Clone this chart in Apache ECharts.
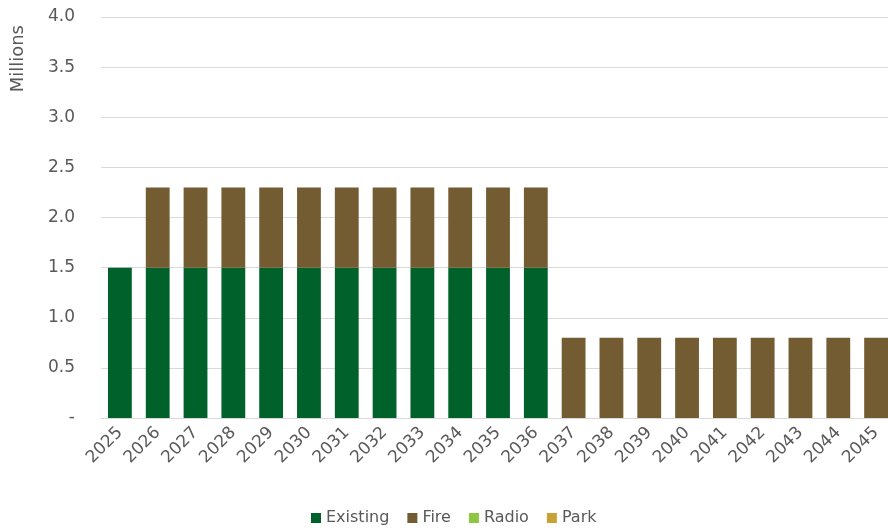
<!DOCTYPE html>
<html><head><meta charset="utf-8">
<script src="https://cdn.jsdelivr.net/npm/echarts@6/dist/echarts.min.js"></script>
<style>html,body{margin:0;padding:0;background:#fff}#c{width:888px;height:529px}</style>
</head><body><div id="c"></div>
<script>
const categories = ['2025','2026','2027','2028','2029','2030','2031','2032','2033','2034','2035','2036','2037','2038','2039','2040','2041','2042','2043','2044','2045'];
const existing = [1.5,1.5,1.5,1.5,1.5,1.5,1.5,1.5,1.5,1.5,1.5,1.5,0,0,0,0,0,0,0,0,0];
const fire = [0,0.8,0.8,0.8,0.8,0.8,0.8,0.8,0.8,0.8,0.8,0.8,0.8,0.8,0.8,0.8,0.8,0.8,0.8,0.8,0.8];
const radio = [0,0,0,0,0,0,0,0,0,0,0,0,0,0,0,0,0,0,0,0,0];
const park = [0,0,0,0,0,0,0,0,0,0,0,0,0,0,0,0,0,0,0,0,0];
const yTicks = {min:0, max:4, interval:0.5};

const chart = echarts.init(document.getElementById('c'));
const font = 'DejaVu Sans';
function s(name, data, color){
  return {name, type:'bar', stack:'t', data, barCategoryGap:'37%', itemStyle:{color}, emphasis:{disabled:true}};
}
chart.setOption({
  animation:false,
  textStyle:{fontFamily:font},
  grid:{left:101, top:17, width:794, bottom:111, containLabel:false, outerBoundsMode:'none'},
  legend:{bottom:-2, left:306, itemWidth:10, itemHeight:10, itemGap:18, icon:'rect',
    textStyle:{fontSize:16, color:'#595959', fontFamily:font},
    data:['Existing','Fire','Radio','Park']},
  graphic:[{type:'text', left:9, top:25, rotation:Math.PI/2, style:{text:'Millions', fontSize:18, fill:'#595959', fontFamily:font}}],
  xAxis:{type:'category', data:categories,
    axisLine:{lineStyle:{color:'#d9d9d9', width:1}}, axisTick:{show:false},
    axisLabel:{rotate:45, fontSize:17, color:'#595959', margin:12, interval:0}},
  yAxis:{type:'value', min:yTicks.min, max:yTicks.max, interval:yTicks.interval,
    axisLine:{show:false}, axisTick:{show:false},
    splitLine:{lineStyle:{color:'#d9d9d9'}},
    axisLabel:{fontSize:17, color:'#595959', margin:26, formatter:v=> v===0?'-':v.toFixed(1)}},
  series:[s('Existing',existing,'#00612B'), s('Fire',fire,'#735C32'), s('Radio',radio,'#8DC63F'), s('Park',park,'#C9A236')]
});
</script></body></html>
